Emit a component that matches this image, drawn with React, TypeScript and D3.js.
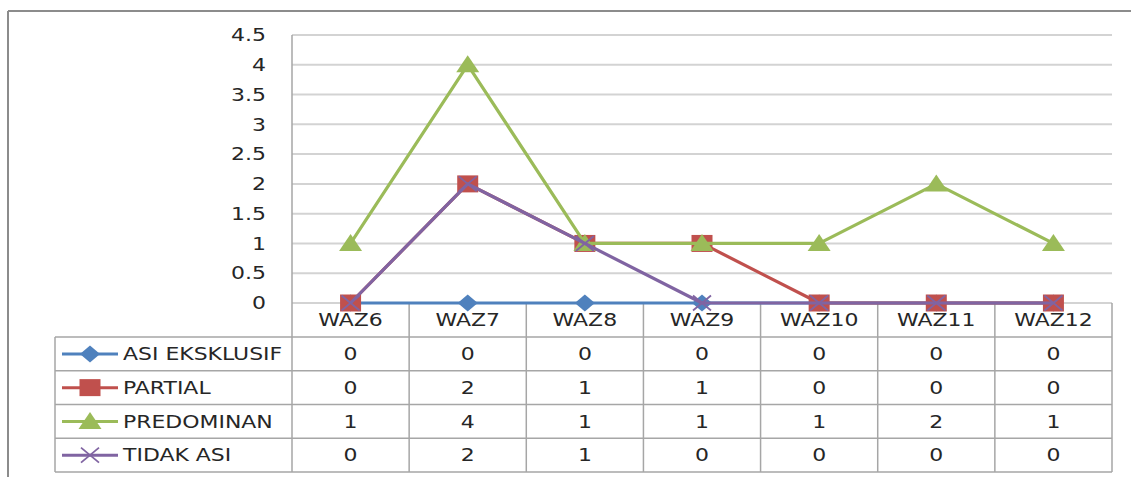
import React from "react";
import * as d3 from "d3";

const categories = ["WAZ6", "WAZ7", "WAZ8", "WAZ9", "WAZ10", "WAZ11", "WAZ12"];
const seriesNames = ["ASI EKSKLUSIF", "PARTIAL", "PREDOMINAN", "TIDAK ASI"];
const asiEksklusif = [0, 0, 0, 0, 0, 0, 0];
const partial = [0, 2, 1, 1, 0, 0, 0];
const predominan = [1, 4, 1, 1, 1, 2, 1];
const tidakAsi = [0, 2, 1, 0, 0, 0, 0];
const yTicks = [0, 0.5, 1, 1.5, 2, 2.5, 3, 3.5, 4, 4.5];
const colors = ["#4F81BD", "#C0504D", "#9BBB59", "#8064A2"];
const markers = ["diamond", "square", "triangle", "x"];

const seriesValues = [asiEksklusif, partial, predominan, tidakAsi];

const W = 1131;
const H = 477;
const SX = 1.22;
const FS = 18;
const TXT = "#262626";
const GRID = "#d3d3d3";
const BORDER = "#a6a6a6";

const x = d3.scaleBand<string>().domain(categories).range([292, 1112]).padding(0);
const y = d3.scaleLinear().domain([0, 4.5]).range([303, 35]);

const tableTop = 337;
const tableBottom = 472;
const tableLeft = 55;
const rowH = (tableBottom - tableTop) / seriesNames.length;

function Marker({ type, cx, cy, color }: { type: string; cx: number; cy: number; color: string }) {
  if (type === "diamond") {
    return <path d={`M${cx},${cy - 8.5} L${cx + 10},${cy} L${cx},${cy + 8.5} L${cx - 10},${cy} Z`} fill={color} />;
  }
  if (type === "square") {
    return <rect x={cx - 10.5} y={cy - 8.5} width={21} height={17} fill={color} />;
  }
  if (type === "triangle") {
    return <path d={`M${cx},${cy - 9.5} L${cx + 11.5},${cy + 7.5} L${cx - 11.5},${cy + 7.5} Z`} fill={color} />;
  }
  return (
    <g stroke={color} strokeWidth={1.8}>
      <line x1={cx - 9} y1={cy - 7.5} x2={cx + 9} y2={cy + 7.5} />
      <line x1={cx - 9} y1={cy + 7.5} x2={cx + 9} y2={cy - 7.5} />
    </g>
  );
}

function T({ x0, y0, anchor, children }: { x0: number; y0: number; anchor: string; children: React.ReactNode }) {
  return (
    <text
      transform={`translate(${x0},${y0}) scale(${SX},1)`}
      textAnchor={anchor}
      dominantBaseline="central"
      fontFamily="'DejaVu Sans', Verdana, sans-serif"
      fontSize={FS}
      fill={TXT}
    >
      {children}
    </text>
  );
}

export default function App() {
  const bw = x.bandwidth();
  const line = d3
    .line<number>()
    .x((_, i) => (x(categories[i]) as number) + bw / 2)
    .y((d) => y(d));

  return (
    <svg
      width={W}
      height={H}
      style={{ position: "absolute", left: 0, top: 0, background: "#fff" }}
    >
      {/* outer border */}
      <line x1={8} y1={11} x2={W} y2={11} stroke="#8c8c8c" strokeWidth={2} />
      <line x1={8} y1={11} x2={8} y2={H} stroke="#8c8c8c" strokeWidth={2} />

      {/* gridlines */}
      {yTicks.map((t) => (
        <line key={t} x1={292} x2={1112} y1={y(t)} y2={y(t)} stroke={GRID} strokeWidth={2} />
      ))}
      {/* y tick labels */}
      {yTicks.map((t) => (
        <T key={"l" + t} x0={266} y0={y(t)} anchor="end">
          {String(t)}
        </T>
      ))}

      {/* vertical axis line */}
      <line x1={292} x2={292} y1={35} y2={tableBottom} stroke={BORDER} strokeWidth={1.5} />

      {/* header column separators */}
      {categories.map((c) => (
        <line
          key={"v" + c}
          x1={(x(c) as number) + bw}
          x2={(x(c) as number) + bw}
          y1={y(0)}
          y2={tableBottom}
          stroke={BORDER}
          strokeWidth={1.5}
        />
      ))}
      {/* table horizontal lines */}
      {d3.range(seriesNames.length + 1).map((r) => (
        <line
          key={"h" + r}
          x1={tableLeft}
          x2={1112}
          y1={tableTop + r * rowH}
          y2={tableTop + r * rowH}
          stroke={BORDER}
          strokeWidth={1.5}
        />
      ))}
      <line x1={tableLeft} x2={tableLeft} y1={tableTop} y2={tableBottom} stroke={BORDER} strokeWidth={1.5} />

      {/* category labels */}
      {categories.map((c) => (
        <T key={"c" + c} x0={(x(c) as number) + bw / 2} y0={320} anchor="middle">
          {c}
        </T>
      ))}

      {/* table rows */}
      {seriesNames.map((name, si) => {
        const cy = tableTop + si * rowH + rowH / 2;
        return (
          <g key={name}>
            <line x1={62} x2={118} y1={cy} y2={cy} stroke={colors[si]} strokeWidth={3} />
            <Marker type={markers[si]} cx={90} cy={cy} color={colors[si]} />
            <T x0={123} y0={cy} anchor="start">
              {name}
            </T>
            {seriesValues[si].map((v, i) => (
              <T key={i} x0={(x(categories[i]) as number) + bw / 2} y0={cy} anchor="middle">
                {String(v)}
              </T>
            ))}
          </g>
        );
      })}

      {/* series lines */}
      {seriesValues.map((vals, si) => (
        <g key={"s" + si}>
          <path d={line(vals) as string} fill="none" stroke={colors[si]} strokeWidth={3.2} strokeLinejoin="round" />
          {vals.map((v, i) => (
            <Marker
              key={i}
              type={markers[si]}
              cx={(x(categories[i]) as number) + bw / 2}
              cy={y(v)}
              color={colors[si]}
            />
          ))}
        </g>
      ))}
    </svg>
  );
}
